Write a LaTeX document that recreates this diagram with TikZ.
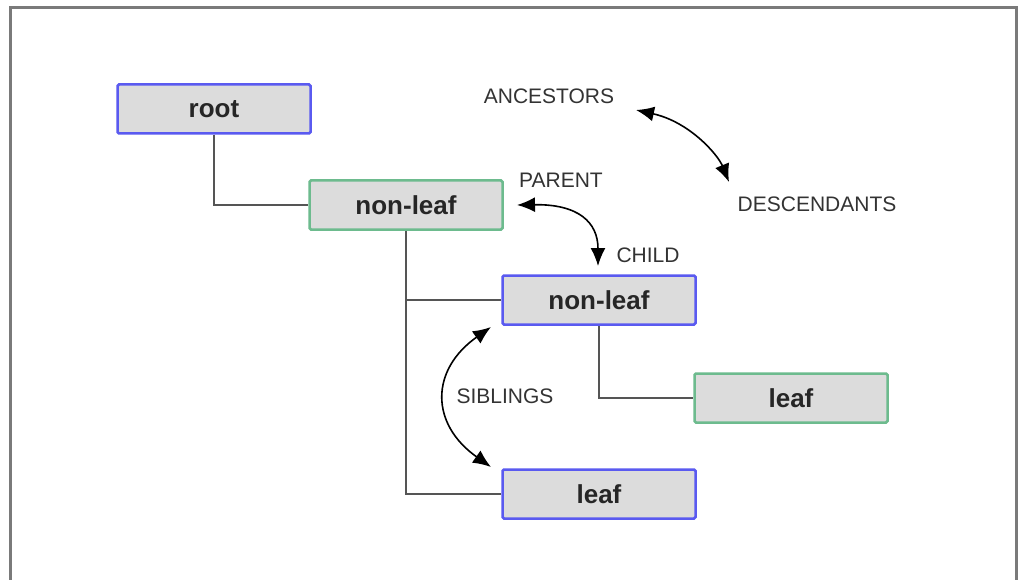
\documentclass[tikz,border=0pt]{standalone}
\usepackage{fontspec}
\setmainfont{Liberation Sans}
\usetikzlibrary{arrows.meta}
\definecolor{boxfill}{HTML}{DCDCDC}
\definecolor{blueedge}{HTML}{5A5AF0}
\definecolor{greenedge}{HTML}{6DBB8E}
\definecolor{linegray}{HTML}{555555}
\definecolor{framegray}{HTML}{7A7A7A}
\tikzset{
  treebox/.style={rectangle, rounded corners=1.5pt, fill=boxfill, line width=2.5pt, minimum width=193pt, minimum height=49pt, inner sep=0pt, font=\fontsize{26}{30}\selectfont\bfseries, text=black!85},
  bluebox/.style={treebox, draw=blueedge},
  greenbox/.style={treebox, draw=greenedge},
  treeline/.style={draw=linegray, line width=2.5pt},
  relarrow/.style={draw=black, line width=1.6pt, {Latex[length=18pt,width=15pt]}-{Latex[length=18pt,width=15pt]}},
  reltext/.style={font=\fontsize{21}{24}\selectfont, text=black!80, inner sep=0pt}
}
\begin{document}
\begin{tikzpicture}[x=1pt,y=-1pt]
\useasboundingbox (0,0) rectangle (1025,580);
\fill[white] (0,0) rectangle (1025,580);
\draw[framegray, line width=3pt] (10,580) -- (10,7.5) -- (1016.5,7.5) -- (1016.5,580);

\node[bluebox] (root) at (214,109) {root};
\node[greenbox] (nl1) at (406,205) {non-leaf};
\node[bluebox] (nl2) at (599,300) {non-leaf};
\node[greenbox] (leafg) at (791,398) {leaf};
\node[bluebox] (leafb) at (599,494) {leaf};

\draw[treeline] (root.south) |- (nl1.west);
\draw[treeline] (nl1.south) |- (leafb.west);
\draw[treeline] (nl1.south |- nl2.west) -- (nl2.west);
\draw[treeline] (nl2.south) |- (leafg.west);

\node[reltext] (anc) at (549,96) {ANCESTORS};
\node[reltext] (desc) at (817,204) {DESCENDANTS};
\node[reltext] (par) at (561,180) {PARENT};
\node[reltext] (chi) at (648,255) {CHILD};
\node[reltext] (sib) at (505,396) {SIBLINGS};

\coordinate (a1) at (636,110);
\coordinate (a2) at (729,182);
\draw[relarrow] (a1) .. controls (690,122) and (718,155) .. (a2);
\coordinate (p1) at (517,205);
\coordinate (p2) at (598,266);
\draw[relarrow] (p1) .. controls (578,204) and (598,222) .. (p2);
\coordinate (s1) at (491,327);
\coordinate (s2) at (491,467);
\draw[relarrow] (s1) .. controls (430,370) and (430,424) .. (s2);
\end{tikzpicture}
\end{document}
